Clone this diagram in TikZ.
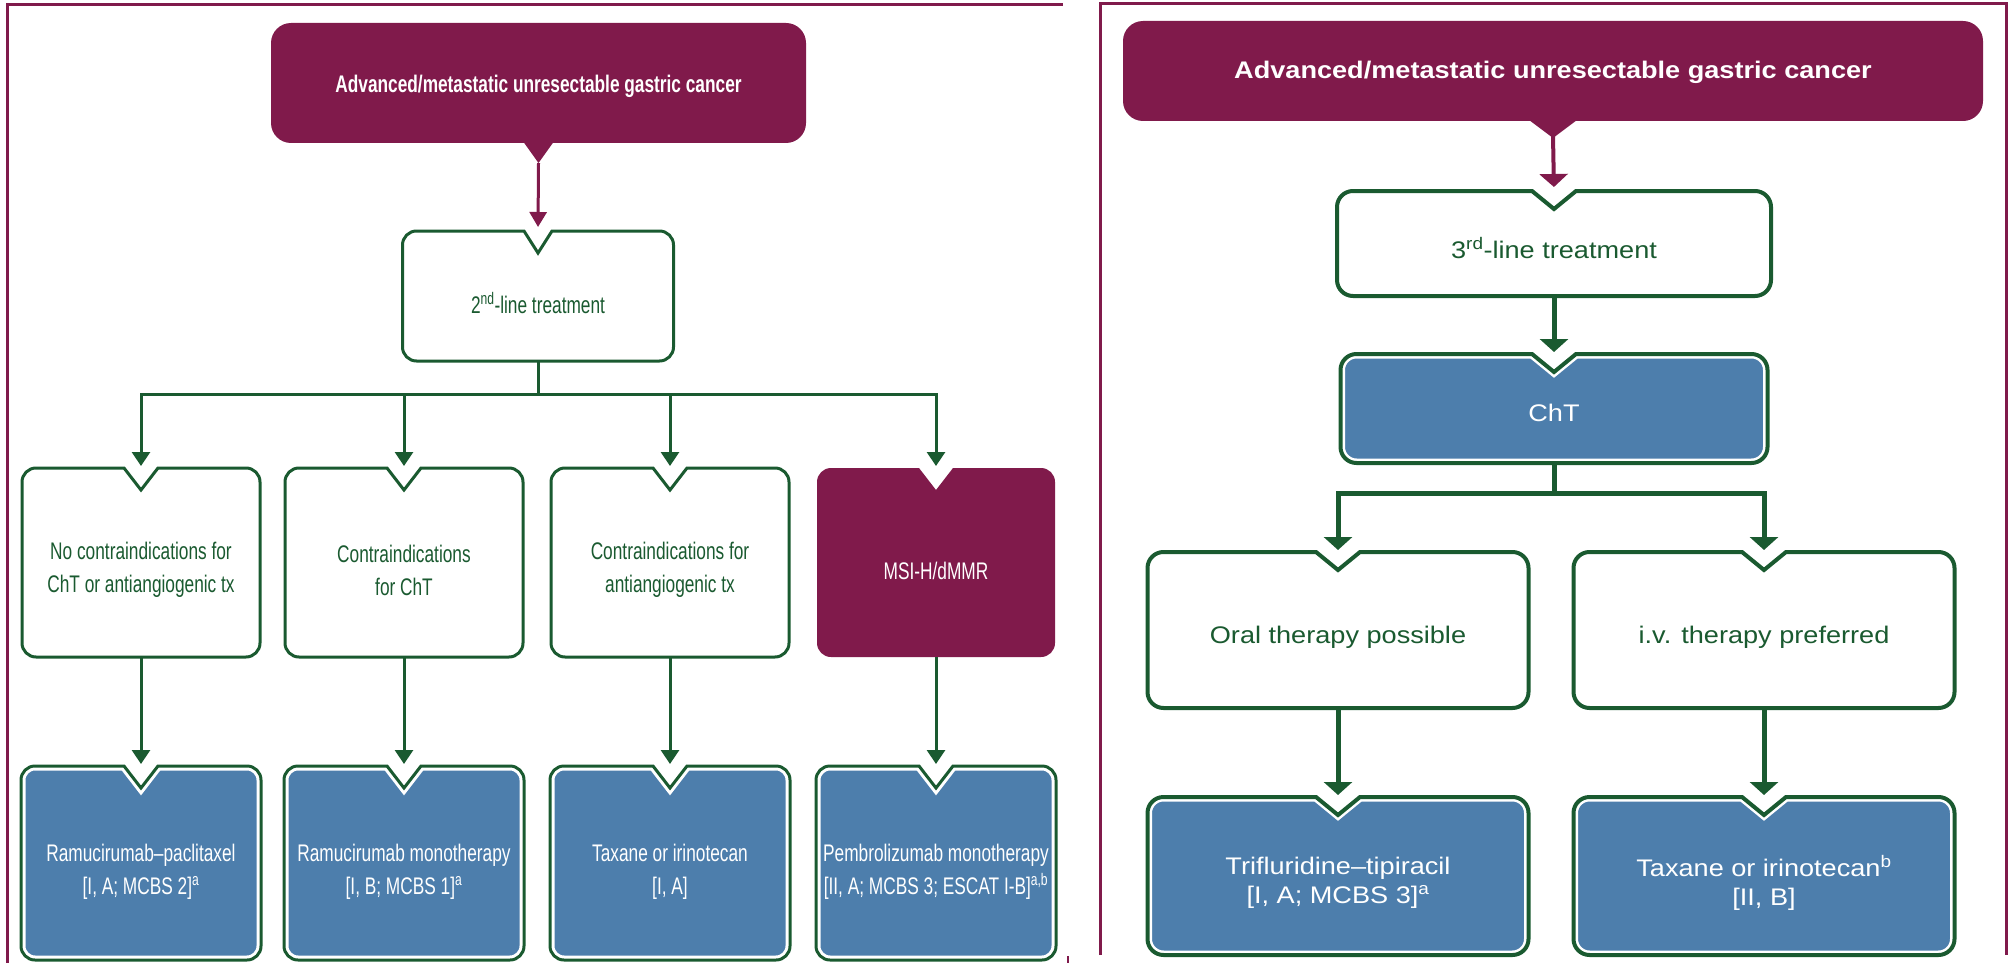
\documentclass[tikz,border=0pt]{standalone}
\usepackage{fontspec}
\setmainfont{Liberation Sans}
\newfontfamily\lf{Liberation Sans}[FakeStretch=0.72]
\newfontfamily\rf{Liberation Sans}[FakeStretch=1.13]
\usetikzlibrary{arrows.meta}
\definecolor{pur}{HTML}{801A4B}
\definecolor{grn}{HTML}{1A5A30}
\definecolor{blu}{HTML}{4D7EAC}
% notched rounded box path: #1 node, #2 radius, #3 notch half width, #4 notch depth
\newcommand\nbpath[4]{([yshift=-#4]#1.north) -- ([xshift=#3]#1.north) -- ([xshift=-#2]#1.north east) arc[start angle=90,end angle=0,radius=#2] -- ([yshift=#2]#1.south east) arc[start angle=0,end angle=-90,radius=#2] -- ([xshift=#2]#1.south west) arc[start angle=-90,end angle=-180,radius=#2] -- ([yshift=-#2]#1.north west) arc[start angle=180,end angle=90,radius=#2] -- ([xshift=-#3]#1.north) -- cycle}
\newcommand\bluebox[5]{%
  \fill[blu] \nbpath{#1}{#2}{#3}{#4};
  \begin{scope}\clip \nbpath{#1}{#2}{#3}{#4};
    \draw[white,line width=9pt] \nbpath{#1}{#2}{#3}{#4};
  \end{scope}
  \draw[grn,line width=#5] \nbpath{#1}{#2}{#3}{#4};}
\newcommand\whitebox[5]{%
  \filldraw[fill=white,draw=grn,line width=#5] \nbpath{#1}{#2}{#3}{#4};}
\begin{document}
\begin{tikzpicture}[x=1pt,y=1pt,
  bx/.style={inner sep=0pt,outer sep=0pt,draw=none},
  ltxt/.style={inner sep=0pt,align=center,text=grn,font=\lf\fontsize{24pt}{33pt}\selectfont},
  rtxt/.style={inner sep=0pt,align=center,text=grn,font=\rf\fontsize{24pt}{29pt}\selectfont},
  larr/.style={draw=grn,line width=3pt,-{Triangle[length=14pt,width=18pt]},shorten >=2pt},
  rarr/.style={draw=grn,line width=5pt,-{Triangle[length=13pt,width=28pt]},shorten >=2pt},
  parrL/.style={draw=pur,line width=3pt,-{Triangle[length=15pt,width=17pt]},shorten >=4pt},
  parrR/.style={draw=pur,line width=4pt,-{Triangle[length=13pt,width=28pt]},shorten >=4pt},
  frame/.style={draw=pur,line width=3pt}]
\useasboundingbox (0,0) rectangle (2013,-963);

% ---------- frames ----------
\draw[frame] (7,-963) -- (7,-5) -- (1063,-5);
\draw[pur,line width=2pt] (1068,-956) -- (1068,-963);
\draw[frame] (1100,-955) -- (1100,-4) -- (2006,-4) -- (2006,-955);

% ================= LEFT PANEL =================
\node[bx,minimum width=535pt,minimum height=120pt] (m1) at (538.5,-83) {};
\fill[pur,rounded corners=20pt] (m1.south west) rectangle (m1.north east);
\fill[pur] ([xshift=-15pt,yshift=1pt]m1.south) -- ([yshift=-20pt]m1.south) -- ([xshift=15pt,yshift=1pt]m1.south) -- cycle;
\node[ltxt,text=white,font=\lf\bfseries\fontsize{24pt}{30pt}\selectfont] (m1t) at (538.5,-86) {Advanced/metastatic unresectable gastric cancer};

\node[bx,minimum width=271pt,minimum height=130pt] (l2) at (538,-296) {};
\whitebox{l2}{14pt}{14pt}{22pt}{3pt}
\node[ltxt] (l2t) at (538,-303) {2\textsuperscript{nd}-line treatment};

\foreach \n/\x in {c1/141,c2/404,c3/670,c4/936}{
  \node[bx,minimum width=238pt,minimum height=189pt] (\n) at (\x,-562.5) {};
}
\foreach \n/\x in {b1/141,b2/404,b3/670,b4/936}{
  \node[bx,minimum width=240pt,minimum height=194pt] (\n) at (\x,-863) {};
}
\whitebox{c1}{14pt}{17pt}{22pt}{3pt}
\whitebox{c2}{14pt}{17pt}{22pt}{3pt}
\whitebox{c3}{14pt}{17pt}{22pt}{3pt}
\fill[pur] \nbpath{c4}{14pt}{17pt}{22pt};
\bluebox{b1}{14pt}{17pt}{22pt}{3pt}
\bluebox{b2}{14pt}{17pt}{22pt}{3pt}
\bluebox{b3}{14pt}{17pt}{22pt}{3pt}
\bluebox{b4}{14pt}{17pt}{22pt}{3pt}

\node[ltxt] (c1t) at (141,-570) {No contraindications for\\ChT or antiangiogenic tx};
\node[ltxt] (c2t) at (404,-570) {Contraindications\\for ChT};
\node[ltxt] (c3t) at (670,-570) {Contraindications for\\antiangiogenic tx};
\node[ltxt,text=white] (c4t) at (936,-571) {MSI-H/dMMR};

\node[ltxt,text=white] (b1t) at (141,-872) {Ramucirumab–paclitaxel\\{[}I, A; MCBS 2]\textsuperscript{a}};
\node[ltxt,text=white] (b2t) at (404,-872) {Ramucirumab monotherapy\\{[}I, B; MCBS 1]\textsuperscript{a}};
\node[ltxt,text=white] (b3t) at (670,-872) {Taxane or irinotecan\\{[}I, A]};
\node[ltxt,text=white] (b4t) at (936,-872) {Pembrolizumab monotherapy\\{[}II, A; MCBS 3; ESCAT I-B]\textsuperscript{a,b}};

% connectors left
\draw[parrL] ([yshift=-20pt]m1.south) -- (l2.north);
\coordinate (busL) at ([yshift=-33pt]l2.south);
\foreach \n in {c1,c2,c3,c4}{
  \draw[larr] (l2.south) -- (busL) -| (\n.north);
}
\draw[larr] (c1.south) -- (b1.north);
\draw[larr] (c2.south) -- (b2.north);
\draw[larr] (c3.south) -- (b3.north);
\draw[larr] (c4.south) -- (b4.north);

% ================= RIGHT PANEL =================
\node[bx,minimum width=860pt,minimum height=100pt] (m2) at (1553,-71) {};
\fill[pur,rounded corners=20pt] (m2.south west) rectangle (m2.north east);
\fill[pur] ([xshift=-24pt,yshift=1pt]m2.south) -- ([yshift=-17pt]m2.south) -- ([xshift=24pt,yshift=1pt]m2.south) -- cycle;
\node[rtxt,text=white,font=\rf\bfseries\fontsize{24pt}{29pt}\selectfont] (m2t) at (1553,-72) {Advanced/metastatic unresectable gastric cancer};

\node[bx,minimum width=434pt,minimum height=105pt] (r2) at (1554,-243.5) {};
\whitebox{r2}{16pt}{22pt}{18pt}{4pt}
\node[rtxt] (r2t) at (1554,-248) {3\textsuperscript{rd}-line treatment};

\node[bx,minimum width=427pt,minimum height=109pt] (cht) at (1554,-408.5) {};
\bluebox{cht}{16pt}{22pt}{18pt}{4pt}
\node[rtxt,text=white] (chtt) at (1554,-413) {ChT};

\node[bx,minimum width=381pt,minimum height=156pt] (o1) at (1338,-630) {};
\node[bx,minimum width=381pt,minimum height=156pt] (o2) at (1764,-630) {};
\whitebox{o1}{16pt}{22pt}{18pt}{4pt}
\whitebox{o2}{16pt}{22pt}{18pt}{4pt}
\node[rtxt] (o1t) at (1338,-637) {Oral therapy possible};
\node[rtxt] (o2t) at (1764,-637) {i.v. therapy preferred};

\node[bx,minimum width=381pt,minimum height=158pt] (t1) at (1338,-876) {};
\node[bx,minimum width=381pt,minimum height=158pt] (t2) at (1764,-876) {};
\bluebox{t1}{16pt}{22pt}{18pt}{4pt}
\bluebox{t2}{16pt}{22pt}{18pt}{4pt}
\node[rtxt,text=white] (t1t) at (1338,-882.5) {Trifluridine–tipiracil\\{[}I, A; MCBS 3]\textsuperscript{a}};
\node[rtxt,text=white] (t2t) at (1764,-882.5) {Taxane or irinotecan\textsuperscript{b}\\{[}II, B]};

% connectors right
\draw[parrR] ([yshift=-15pt]m2.south) -- (r2.north);
\draw[rarr] (r2.south) -- (cht.north);
\coordinate (busR) at ([yshift=-30pt]cht.south);
\draw[rarr] (cht.south) -- (busR) -| (o1.north);
\draw[rarr] (cht.south) -- (busR) -| (o2.north);
\draw[rarr] (o1.south) -- (t1.north);
\draw[rarr] (o2.south) -- (t2.north);
\end{tikzpicture}
\end{document}
